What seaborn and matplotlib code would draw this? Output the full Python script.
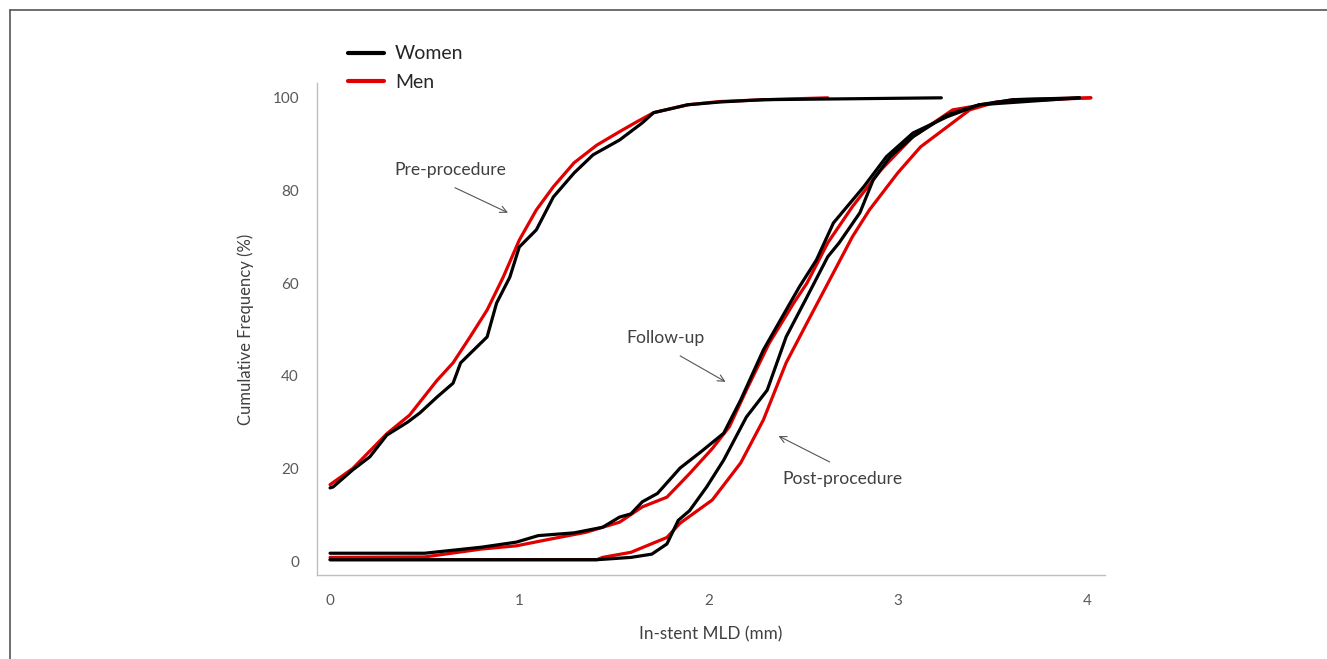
import matplotlib
matplotlib.use("Agg")
import matplotlib.pyplot as plt
from matplotlib.lines import Line2D
import seaborn as sns
import pandas as pd

# ---- data ----
pre_women_x = [0.0, 0.016, 0.12, 0.21, 0.30, 0.41, 0.475, 0.565, 0.65, 0.69, 0.775, 0.83, 0.88, 0.95,
               1.0, 1.09, 1.18, 1.29, 1.39, 1.53, 1.65, 1.71, 1.89, 2.06, 2.29, 3.23]
pre_women_y = [15.8, 16.0, 19.7, 22.5, 27.2, 30.0, 32.0, 35.4, 38.4, 42.8, 46.2, 48.4, 55.7, 61.3,
               67.8, 71.5, 78.6, 83.8, 87.7, 90.9, 94.6, 96.8, 98.5, 99.1, 99.6, 100.0]
pre_men_x = [0.0, 0.12, 0.30, 0.42, 0.565, 0.65, 0.74, 0.83, 0.915, 1.0, 1.09, 1.18, 1.29, 1.41,
             1.53, 1.62, 1.71, 1.89, 2.06, 2.3, 2.63]
pre_men_y = [16.5, 20.0, 27.5, 31.5, 39.0, 42.8, 48.4, 54.2, 61.3, 69.3, 75.8, 80.8, 86.0, 89.8,
             92.7, 94.8, 96.8, 98.5, 99.2, 99.6, 100.0]
fu_women_x = [0.0, 0.5, 0.80, 0.985, 1.1, 1.29, 1.44, 1.53, 1.59, 1.65, 1.73, 1.85, 1.96, 2.08,
              2.17, 2.29, 2.41, 2.48, 2.57, 2.66, 2.82, 2.94, 3.08, 3.26, 3.43, 3.61, 3.96]
fu_women_y = [1.7, 1.7, 3.0, 4.1, 5.5, 6.1, 7.3, 9.5, 10.2, 12.8, 14.6, 20.1, 23.6, 27.6,
              34.8, 45.6, 54.2, 59.2, 65.0, 73.0, 80.8, 87.3, 92.4, 95.9, 98.5, 99.6, 100.0]
fu_men_x = [0.0, 0.5, 0.80, 0.985, 1.17, 1.35, 1.53, 1.65, 1.78, 1.90, 2.02, 2.11, 2.20, 2.32,
            2.45, 2.52, 2.63, 2.76, 2.91, 3.08, 3.29, 3.61, 4.02]
fu_men_y = [0.8, 0.9, 2.6, 3.3, 4.8, 6.2, 8.4, 11.7, 13.8, 18.9, 24.3, 29.0, 36.9, 47.0,
            55.7, 60.0, 68.7, 76.5, 84.4, 91.6, 97.4, 99.6, 100.0]
post_women_x = [0.0, 1.41, 1.59, 1.70, 1.78, 1.84, 1.90, 1.99, 2.08, 2.20, 2.31, 2.41, 2.52, 2.63,
                2.69, 2.80, 2.87, 2.96, 3.08, 3.26, 3.43, 3.96]
post_women_y = [0.3, 0.3, 0.8, 1.5, 3.7, 8.8, 10.9, 16.0, 21.8, 31.1, 36.9, 48.4, 57.0, 65.7,
                68.7, 75.2, 82.3, 87.3, 91.6, 96.3, 98.5, 100.0]
post_men_x = [0.0, 1.41, 1.44, 1.59, 1.78, 1.85, 2.02, 2.17, 2.29, 2.41, 2.52, 2.64, 2.76, 2.85,
              3.0, 3.12, 3.26, 3.38, 3.52, 4.02]
post_men_y = [0.3, 0.3, 0.8, 1.9, 5.1, 8.2, 13.2, 21.2, 30.5, 42.8, 51.4, 60.7, 70.0, 75.8,
              83.8, 89.4, 93.7, 97.4, 99.1, 100.0]

x_ticks = [0, 1, 2, 3, 4]
y_ticks = [0, 20, 40, 60, 80, 100]
legend_labels = ["Women", "Men"]
colors = {"Women": "#000000", "Men": "#e00000"}

W, H = 1327, 659
sns.set_theme(style="white")
plt.rcParams["font.family"] = ["Lato", "DejaVu Sans"]

fig = plt.figure(figsize=(W / 100, H / 100), dpi=100)
ax = fig.add_axes([317 / W, 1 - 575 / H, (1105 - 317) / W, (575 - 83) / H])

curves = [
    ("Men", pre_men_x, pre_men_y),
    ("Men", fu_men_x, fu_men_y),
    ("Men", post_men_x, post_men_y),
    ("Women", pre_women_x, pre_women_y),
    ("Women", fu_women_x, fu_women_y),
    ("Women", post_women_x, post_women_y),
]
for sex, xs, ys in curves:
    df = pd.DataFrame({"x": xs, "y": ys})
    sns.lineplot(data=df, x="x", y="y", ax=ax, color=colors[sex], lw=2.3,
                 sort=False, estimator=None)

ax.set_xlim(-0.069, 4.095)
ax.set_ylim(-3.0, 103.2)
ax.set_xticks(x_ticks)
ax.set_yticks(y_ticks)
ax.set_xticklabels([str(v) for v in x_ticks])
ax.set_yticklabels([str(v) for v in y_ticks])
for s in ["top", "right"]:
    ax.spines[s].set_visible(False)
for s in ["left", "bottom"]:
    ax.spines[s].set_color("#bfbfbf")
    ax.spines[s].set_linewidth(1.0)
ax.tick_params(axis="both", direction="out", length=6, width=1.0, color="#bfbfbf",
               labelcolor="#595959", labelsize=11)
ax.tick_params(axis="x", pad=8)
ax.tick_params(axis="y", pad=7)
ax.set_xlabel("In-stent MLD (mm)", fontsize=12.3, color="#404040", labelpad=13)
ax.set_ylabel("Cumulative Frequency (%)", fontsize=12, color="#404040", labelpad=13)
ax.grid(False)

arrow = dict(arrowstyle="->", color="#555555", lw=0.8, shrinkA=0, shrinkB=0)
ax.text(0.634, 84.4, "Pre-procedure", ha="center", va="center", fontsize=12.6, color="#404040")
ax.annotate("", xy=(0.94, 75.2), xytext=(0.66, 80.6), arrowprops=arrow)
ax.text(1.775, 48.2, "Follow-up", ha="center", va="center", fontsize=12.6, color="#404040")
ax.annotate("", xy=(2.09, 38.7), xytext=(1.85, 44.3), arrowprops=arrow)
ax.text(2.71, 17.7, "Post-procedure", ha="center", va="center", fontsize=12.6, color="#404040")
ax.annotate("", xy=(2.37, 27.0), xytext=(2.64, 21.4), arrowprops=arrow)

handles = [Line2D([0], [0], color=colors[k], lw=3) for k in legend_labels]
leg = fig.legend(handles, legend_labels, loc="upper left",
                 bbox_to_anchor=(330 / W, 1 - 28 / H), frameon=False,
                 fontsize=14, handlelength=1.9, handletextpad=0.55, labelspacing=0.6)
for t in leg.get_texts():
    t.set_color("#262626")

# outer frame (top and left edges)
fig.add_artist(Line2D([10 / W, 1], [1 - 10 / H, 1 - 10 / H], transform=fig.transFigure,
                      color="#555555", lw=1.2))
fig.add_artist(Line2D([10 / W, 10 / W], [0, 1 - 10 / H], transform=fig.transFigure,
                      color="#555555", lw=1.2))

fig.savefig("out.png", dpi=100)
